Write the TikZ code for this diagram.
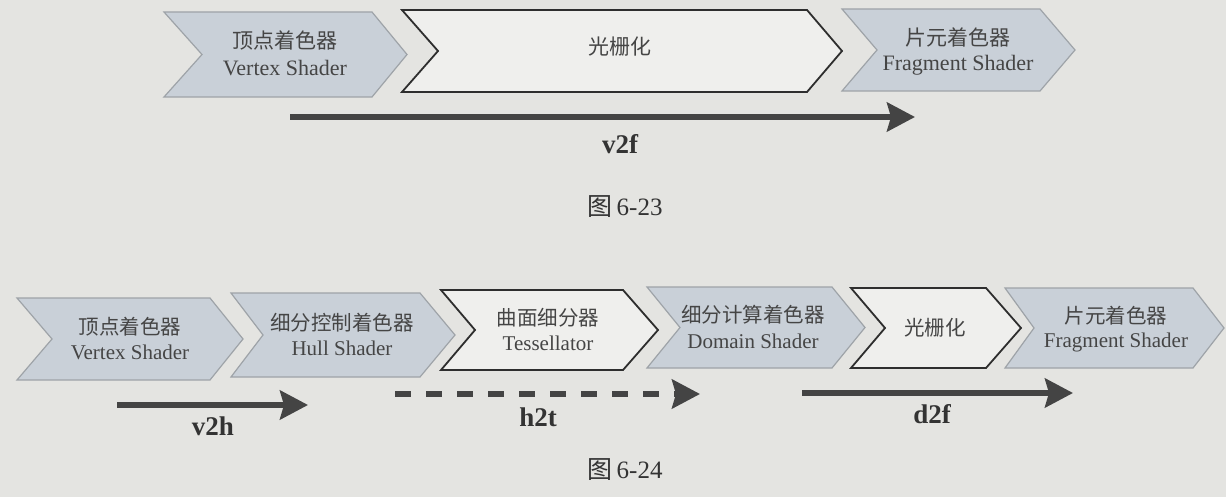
\documentclass[tikz,border=0pt]{standalone}
\usepackage{fontspec}
\setmainfont{Liberation Serif}
\newfontfamily\cjk{Noto Sans CJK SC}
\usetikzlibrary{arrows.meta}
\definecolor{bg}{HTML}{E4E4E1}
\definecolor{shadefill}{HTML}{C9D0D8}
\definecolor{shadeedge}{HTML}{9EA3A8}
\definecolor{plainfill}{HTML}{EFEFED}
\definecolor{plainedge}{HTML}{2E2E2E}
\definecolor{txt}{HTML}{454545}
\definecolor{lbltxt}{HTML}{333333}
\definecolor{arrowc}{HTML}{444444}
\newcommand\mychev[7]{% style, left, notch, right, tip, top, bottom
  \draw[#1] (#2,#6) -- (#4,#6) -- (#5,{(#6+#7)/2}) -- (#4,#7) -- (#2,#7) -- (#3,{(#6+#7)/2}) -- cycle;}
\tikzset{
  shadedchev/.style={fill=shadefill, draw=shadeedge, line width=1.2pt},
  plainchev/.style={fill=plainfill, draw=plainedge, line width=1.8pt},
  cnA/.style={font=\cjk\fontsize{21}{21}\selectfont, text=txt, inner sep=0pt},
  enA/.style={font=\fontsize{22}{22}\selectfont, text=txt, inner sep=0pt},
  cnB/.style={font=\cjk\fontsize{20.5}{20.5}\selectfont, text=txt, inner sep=0pt},
  enB/.style={font=\fontsize{21}{21}\selectfont, text=txt, inner sep=0pt},
  lbl/.style={font=\bfseries\fontsize{27}{27}\selectfont, text=lbltxt, inner sep=0pt},
  capt/.style={font=\fontsize{25}{25}\selectfont, text=lbltxt, inner sep=0pt},
  flow/.style={line width=5.5pt, draw=arrowc, -{Stealth[length=28pt,width=29pt,inset=4pt]}},
  dflow/.style={flow, dash pattern=on 16pt off 15pt}
}
\begin{document}
\begin{tikzpicture}[x=1pt,y=-1pt]
\fill[bg] (0,0) rectangle (1226,497);
\useasboundingbox (0,0) rectangle (1226,497);
% ---------- Figure 6-23 ----------
\mychev{shadedchev}{164}{202}{372}{407}{12}{97}
\mychev{plainchev}{402}{438}{807}{842}{10}{92}
\mychev{shadedchev}{842}{877}{1040}{1075}{9}{91}
\node[cnA] (tv1) at (285,40) {顶点着色器};
\node[enA] (tv2) at (285,68) {Vertex Shader};
\node[cnA] (tr1) at (620,47) {光栅化};
\node[cnA] (tf1) at (958,37) {片元着色器};
\node[enA] (tf2) at (958,65) {Fragment Shader};
\coordinate (v2fs) at (290,117);
\coordinate (v2fe) at (915,117);
\draw[flow] (v2fs) -- (v2fe);
\node[lbl] (v2f) at (620,144) {v2f};
\node[capt] (cap1) at (625,207) {{\cjk 图}\,6-23};
% ---------- Figure 6-24 ----------
\mychev{shadedchev}{17}{52}{210}{243}{298}{380}
\mychev{shadedchev}{231}{263}{420}{455}{293}{377}
\mychev{plainchev}{441}{475}{623}{658}{290}{370}
\mychev{shadedchev}{647}{680}{832}{865}{287}{368}
\mychev{plainchev}{851}{885}{986}{1021}{288}{368}
\mychev{shadedchev}{1005}{1034}{1193}{1224}{288}{368}
\node[cnB] (bv1) at (130,327) {顶点着色器};
\node[enB] (bv2) at (130,352) {Vertex Shader};
\node[cnB] (bh1) at (342,323) {细分控制着色器};
\node[enB] (bh2) at (342,348) {Hull Shader};
\node[cnB] (bt1) at (548,318) {曲面细分器};
\node[enB] (bt2) at (548,343) {Tessellator};
\node[cnB] (bd1) at (753,315) {细分计算着色器};
\node[enB] (bd2) at (753,341) {Domain Shader};
\node[cnB] (br1) at (935,328) {光栅化};
\node[cnB] (bf1) at (1116,316) {片元着色器};
\node[enB] (bf2) at (1116,342) {Fragment Shader};
\coordinate (v2hs) at (117,405);
\coordinate (v2he) at (308,405);
\draw[flow] (v2hs) -- (v2he);
\node[lbl] (v2h) at (213,426) {v2h};
\coordinate (h2ts) at (395,394);
\coordinate (h2te) at (700,394);
\draw[dflow] (h2ts) -- (h2te);
\node[lbl] (h2t) at (538,417) {h2t};
\coordinate (d2fs) at (802,393);
\coordinate (d2fe) at (1073,393);
\draw[flow] (d2fs) -- (d2fe);
\node[lbl] (d2f) at (932,414) {d2f};
\node[capt] (cap2) at (625,470) {{\cjk 图}\,6-24};
\end{tikzpicture}
\end{document}
